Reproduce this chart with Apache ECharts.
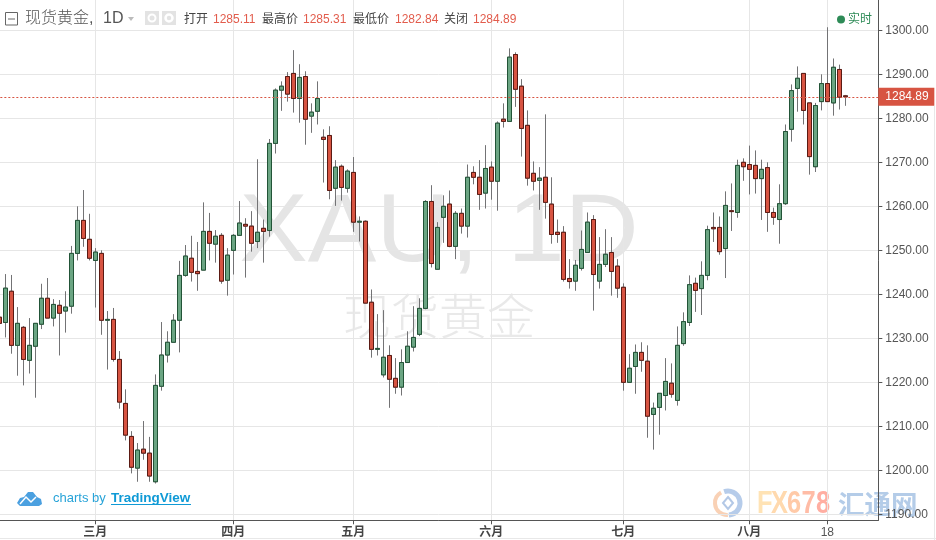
<!DOCTYPE html>
<html><head><meta charset="utf-8">
<style>html,body{margin:0;padding:0;background:#fff}#c{width:936px;height:540px}</style>
<script src="https://cdn.jsdelivr.net/npm/echarts@6/dist/echarts.min.js"></script>
</head><body><div id="c"></div>
<script>
const opens=[1234.8,1233.6,1240.7,1228.4,1232.5,1225.0,1228.2,1233.2,1239.1,1234.6,
1237.5,1236.2,1237.3,1249.3,1256.8,1252.5,1247.7,1249.3,1234.1,1234.3,
1225.2,1215.2,1207.7,1200.5,1204.8,1203.9,1197.4,1219.1,1226.2,1229.1,
1234.1,1244.3,1248.2,1245.2,1245.5,1254.3,1251.4,1253.4,1243.2,1250.0,
1253.4,1255.9,1255.5,1252.0,1255.0,1254.5,1274.3,1286.4,1289.5,1290.2,
1284.5,1289.5,1280.5,1281.6,1275.7,1276.1,1264.1,1269.1,1264.1,1267.7,
1256.4,1256.6,1238.2,1227.5,1221.7,1226.1,1220.9,1218.9,1224.5,1228.0,
1230.9,1236.8,1261.1,1245.7,1257.5,1260.5,1250.9,1258.4,1255.5,1267.7,
1266.6,1263.0,1268.9,1265.7,1279.8,1279.3,1294.5,1287.3,1278.4,1267.5,
1265.9,1266.6,1260.5,1254.1,1254.1,1243.6,1243.0,1245.9,1249.5,1257.0,
1243.0,1246.8,1249.5,1246.4,1241.6,1220.0,1223.6,1226.8,1224.8,1212.7,
1214.3,1217.0,1219.8,1215.9,1228.8,1233.6,1242.5,1241.3,1244.3,1255.2,
1255.2,1250.4,1259.0,1258.6,1270.0,1269.5,1269.3,1266.3,1268.8,1258.6,
1257.0,1260.6,1277.5,1286.8,1290.2,1283.5,1269.0,1283.8,1287.9,1283.5,
1291.1,1285.11];
const closes=[1233.4,1241.4,1228.4,1233.4,1225.2,1228.4,1233.4,1239.1,1234.6,1237.7,
1235.7,1237.1,1249.3,1256.8,1252.7,1248.2,1249.6,1234.1,1234.3,1225.2,
1215.5,1208.0,1200.7,1204.6,1203.9,1198.7,1219.3,1226.2,1229.1,1234.1,
1244.3,1248.7,1245.0,1244.7,1254.3,1251.6,1253.2,1243.0,1248.9,1253.4,
1256.2,1255.5,1251.6,1254.1,1254.3,1274.3,1286.4,1287.3,1285.5,1284.5,
1289.3,1279.8,1281.4,1284.5,1275.2,1263.6,1268.9,1264.3,1268.0,1256.4,
1256.6,1238.0,1227.5,1227.7,1225.7,1220.7,1218.9,1224.5,1228.2,1230.2,
1236.8,1261.1,1247.0,1255.2,1260.0,1250.9,1258.4,1255.5,1266.6,1266.6,
1262.7,1268.6,1265.7,1278.9,1279.3,1293.9,1286.6,1277.7,1266.4,1265.7,
1266.4,1260.9,1253.6,1253.6,1243.4,1242.9,1246.6,1250.2,1256.4,1244.5,
1246.8,1249.1,1245.2,1241.4,1220.0,1223.2,1226.8,1225.0,1212.3,1214.1,
1217.5,1220.2,1217.3,1228.4,1233.8,1242.2,1240.9,1244.3,1254.7,1254.9,
1249.7,1260.2,1258.8,1269.3,1269.0,1268.4,1266.3,1268.4,1258.6,1257.5,
1260.6,1277.0,1286.3,1289.1,1281.8,1271.3,1282.9,1287.9,1283.8,1291.6,
1284.8,1284.89];
const highs=[1236.5,1244.6,1244.4,1237.1,1232.8,1234.6,1233.4,1242.4,1243.7,1238.9,
1238.7,1240.7,1251.0,1260.0,1263.7,1258.3,1250.5,1250.0,1236.2,1236.9,
1227.1,1218.4,1208.9,1206.2,1211.2,1207.6,1221.8,1233.7,1231.6,1235.5,
1247.6,1251.2,1253.3,1251.9,1260.9,1258.5,1254.6,1253.9,1250.5,1253.7,
1261.2,1257.3,1258.9,1270.7,1257.0,1275.3,1286.8,1288.4,1290.5,1295.5,
1292.3,1290.7,1283.4,1288.4,1277.5,1278.2,1270.5,1269.5,1268.4,1271.2,
1257.7,1256.8,1241.1,1235.5,1236.4,1228.4,1225.5,1227.5,1231.6,1237.3,
1239.1,1261.4,1264.8,1256.4,1262.5,1263.6,1258.9,1259.5,1269.5,1269.1,
1270.5,1273.9,1270.2,1279.3,1283.4,1295.9,1295.0,1288.9,1281.8,1270.2,
1268.9,1280.9,1266.6,1257.0,1255.5,1248.0,1247.8,1254.5,1258.6,1258.0,
1253.0,1254.8,1253.0,1248.0,1242.5,1226.4,1228.6,1229.1,1228.4,1215.4,
1217.5,1225.5,1224.3,1232.7,1235.9,1244.3,1243.8,1247.5,1255.6,1258.6,
1257.7,1263.4,1265.2,1270.6,1270.9,1273.8,1272.7,1270.6,1270.0,1259.7,
1265.0,1278.6,1287.7,1291.8,1290.2,1283.5,1283.5,1290.0,1300.7,1293.6,
1292.2,1285.31];
const lows=[1231.0,1230.2,1226.5,1221.5,1219.3,1222.0,1216.5,1232.1,1234.6,1232.7,
1226.1,1231.3,1235.6,1247.7,1250.8,1247.7,1237.0,1230.8,1222.9,1224.7,
1214.0,1206.8,1199.3,1197.4,1202.4,1197.4,1197.0,1218.1,1224.5,1229.1,
1226.8,1244.0,1242.9,1240.8,1245.5,1247.7,1247.2,1242.4,1239.7,1244.5,
1253.4,1243.8,1249.7,1250.5,1247.2,1253.1,1272.0,1281.7,1283.8,1281.3,
1279.0,1274.0,1276.7,1278.6,1265.4,1261.6,1260.1,1261.3,1263.1,1254.2,
1252.0,1238.0,1225.6,1226.1,1221.1,1214.2,1217.4,1217.0,1224.5,1227.0,
1230.5,1236.6,1246.1,1245.7,1251.7,1250.7,1248.0,1253.8,1252.9,1265.0,
1259.2,1259.5,1261.5,1259.0,1277.9,1279.3,1282.6,1271.3,1264.7,1263.6,
1259.2,1257.2,1251.5,1251.7,1242.9,1241.3,1240.8,1245.4,1249.5,1236.3,
1241.3,1246.2,1239.7,1239.2,1218.1,1220.0,1217.4,1222.4,1207.4,1204.7,
1208.1,1213.6,1216.5,1214.7,1228.3,1232.8,1236.0,1235.3,1243.2,1251.9,
1249.0,1243.7,1254.4,1257.4,1265.8,1262.7,1262.9,1256.9,1254.2,1255.8,
1251.5,1260.3,1274.7,1281.5,1278.6,1267.2,1267.8,1281.8,1283.8,1280.6,
1282.0,1282.84];
const tickLabels=['三月','四月','五月','六月','七月','八月','18'];
const tickIndex=[16,39,59,82,104,125,138];
const yTicks=[1190,1200,1210,1220,1230,1240,1250,1260,1270,1280,1290,1300];
const lastPrice=1284.89;
const headerValues=['1285.11','1285.31','1282.84','1284.89'];

const slotCount=147;
const categories=Array.from({length:slotCount},(_,i)=>{const k=tickIndex.indexOf(i);return k<0?'':tickLabels[k];});
const ohlc=opens.map((o,i)=>[o,closes[i],lows[i],highs[i]]);
const bodies=opens.map((o,i)=>[o,closes[i],Math.min(o,closes[i]),Math.max(o,closes[i])]);
const shown=(i)=>tickIndex.indexOf(i)>=0;
const sans='"Liberation Sans",Arial,sans-serif';
const cjk='"Liberation Sans","Noto Sans CJK SC",sans-serif';
const txt=(x,y,text,fontSize,fill,extra,scaleX)=>({type:'text',x,y,scaleX:scaleX||1,silent:true,style:Object.assign({text,fontSize,fill,fontFamily:cjk,verticalAlign:'middle',align:'left'},extra||{})});
const fxBold={fontWeight:'bold',fontFamily:sans};

const under=[
  txt(439,235,'XAU, 1D',96,'#e5e5e5',{align:'center',fontFamily:sans},1.07),
  txt(439,316,'现货黄金',48,'#e9e9e9',{align:'center',fontFamily:'"Noto Sans CJK SC",sans-serif',fontWeight:300}),
  {type:'arc',shape:{cx:728,cy:503,r:12,startAngle:-1.9,endAngle:1.5},style:{fill:'none',stroke:'#a9c3e6',lineWidth:5,opacity:.85}},
  {type:'arc',shape:{cx:727,cy:503,r:12,startAngle:1.5,endAngle:4.2},style:{fill:'none',stroke:'#f8c9a8',lineWidth:4,opacity:.85}},
  {type:'polygon',shape:{points:[[728,497],[733,503],[728,509],[723,503]]},style:{fill:'none',stroke:'#b3c8e6',lineWidth:2}},
  txt(757,504,'F',31,'#ffe3b5',fxBold,.82),
  txt(771,504,'X',31,'#ffd9ae',fxBold,.82),
  txt(787,504,'6',31,'#ffcaa8',fxBold,.82),
  txt(801.5,504,'7',31,'#ffbca6',fxBold,.82),
  txt(816,504,'8',31,'#ffaea2',fxBold,.82),
  txt(838,504,'汇通网',26.5,'#b4cce8',{fontWeight:'bold',fontFamily:'"Noto Sans CJK SC",sans-serif'})
];
const over=[
  {type:'rect',shape:{x:5.5,y:12.5,width:12,height:12.5},style:{fill:'none',stroke:'#666',lineWidth:1}},
  {type:'line',shape:{x1:8,y1:19,x2:15,y2:19},style:{stroke:'#666',lineWidth:1}},
  txt(25,19,'现货黄金,',16,'#555',{fontWeight:300}),
  txt(103,19,'1D',16,'#555',{fontFamily:sans}),
  {type:'polygon',shape:{points:[[128,17],[134,17],[131,21]]},style:{fill:'#bbb'}},
  {type:'rect',shape:{x:145,y:11,width:14,height:14},style:{fill:'#e3e3e3'}},
  {type:'circle',shape:{cx:152,cy:18,r:3.5},style:{fill:'none',stroke:'#fff',lineWidth:2}},
  {type:'rect',shape:{x:162,y:11,width:14,height:14},style:{fill:'#e3e3e3'}},
  {type:'circle',shape:{cx:169,cy:18,r:3.5},style:{fill:'none',stroke:'#fff',lineWidth:2.5}},
  txt(184,20,'打开',12,'#444'),
  txt(213,20,headerValues[0],12,'#e25c4c',{fontFamily:sans}),
  txt(262,20,'最高价',12,'#444'),
  txt(303,20,headerValues[1],12,'#e25c4c',{fontFamily:sans}),
  txt(353,20,'最低价',12,'#444'),
  txt(395,20,headerValues[2],12,'#e25c4c',{fontFamily:sans}),
  txt(444,20,'关闭',12,'#444'),
  txt(473,20,headerValues[3],12,'#e25c4c',{fontFamily:sans}),
  {type:'circle',shape:{cx:841,cy:19.5,r:4},style:{fill:'#2e8b57'}},
  txt(848,19.5,'实时',12,'#2e8b57'),
  {type:'polygon',shape:{points:[[17,503],[20,498],[24,497],[28,492],[33,492],[37,497],[41,499],[42,504],[39,506],[20,506]]},style:{fill:'#4ba0e0'}},
  {type:'polyline',shape:{points:[[20,504],[26,497],[31,502],[36,497]]},style:{fill:'none',stroke:'#fff',lineWidth:1.5}},
  txt(53,498.5,'charts by',13,'#27a3d8',{fontFamily:sans}),
  txt(111,498.5,'TradingView',13.5,'#0f9ad6',{fontFamily:sans,fontWeight:'bold'}),
  {type:'line',shape:{x1:111,y1:504.5,x2:191,y2:504.5},style:{stroke:'#0f9ad6',lineWidth:1}},
  {type:'line',shape:{x1:934.5,y1:106,x2:934.5,y2:540},style:{stroke:'#e8e8e8',lineWidth:1}},
  {type:'line',shape:{x1:0,y1:538.5,x2:936,y2:538.5},style:{stroke:'#e8e8e8',lineWidth:1}}
];

const chart=echarts.init(document.getElementById('c'),null,{renderer:'canvas'});
chart.setOption({
  animation:false,
  backgroundColor:'#fff',
  graphic:{elements:under.map(e=>Object.assign({z:-10},e)).concat(over.map(e=>Object.assign({z:100},e)))},
  grid:{left:-3.67,top:0,width:882,height:520.3,containLabel:false,outerBoundsMode:'none'},
  xAxis:{type:'category',data:categories,boundaryGap:true,
    axisLine:{lineStyle:{color:'#555',width:1}},
    axisTick:{show:true,length:4,alignWithLabel:true,interval:shown,lineStyle:{color:'#555'}},
    axisLabel:{interval:shown,hideOverlap:false,margin:5,fontSize:12,lineHeight:14,color:'#444',fontFamily:cjk,
      formatter:(v)=>v==='18'?'{n|18}':'{m|'+v+'}',
      rich:{n:{fontFamily:sans,fontSize:12,color:'#555'},m:{fontFamily:cjk,fontSize:12,fontWeight:'bold',color:'#444'}}},
    splitLine:{show:true,interval:shown,alignWithLabel:true,lineStyle:{color:'#e6e6e6',width:1}}},
  yAxis:{type:'value',position:'right',min:1188.64,max:1306.89,scale:true,
    axisLine:{show:true,lineStyle:{color:'#555',width:1}},
    axisTick:{show:true,length:4,customValues:yTicks,lineStyle:{color:'#555'}},
    axisLabel:{customValues:yTicks,margin:7,fontSize:12,color:'#555',fontFamily:sans,hideOverlap:false,
      formatter:(v)=>Number(v).toFixed(2)},
    splitLine:{show:true,lineStyle:{color:'#e6e6e6',width:1}}},
  series:[
    {type:'candlestick',name:'wick',data:ohlc,barWidth:4,silent:true,z:3,
      itemStyle:{color:'#737375',color0:'#737375',borderColor:'#737375',borderColor0:'#737375',borderWidth:1},
      markLine:{silent:true,symbol:'none',animation:false,z:5,
        lineStyle:{color:'#d75442',type:[2,2],width:1},
        label:{show:true,position:'end',distance:0,formatter:()=>lastPrice.toFixed(2),color:'#fff',fontSize:12,fontWeight:'normal',fontFamily:sans,
          backgroundColor:'#d75442',padding:[3,6,3,7],width:43,align:'left'},
        data:[{yAxis:lastPrice}]}},
    {type:'candlestick',name:'body',data:bodies,barWidth:4,silent:true,z:4,
      itemStyle:{color:'#6ba583',color0:'#d75442',borderColor:'#225437',borderColor0:'#5b1a13',borderWidth:1}}
  ]
});
</script></body></html>
